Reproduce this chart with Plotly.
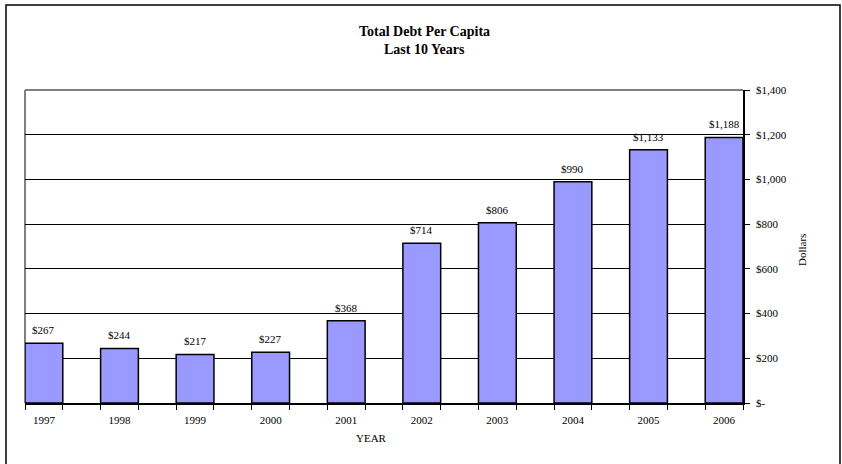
import plotly.graph_objects as go

years = ["1997", "1998", "1999", "2000", "2001", "2002", "2003", "2004", "2005", "2006"]
debt = [267, 244, 217, 227, 368, 714, 806, 990, 1133, 1188]
y_ticks = [0, 200, 400, 600, 800, 1000, 1200, 1400]
y_ticktext = ["$-", "$200", "$400", "$600", "$800", "$1,000", "$1,200", "$1,400"]

xpos = list(range(len(years)))
bar_w = 0.5
edges = []
for p in xpos:
    edges += [p - bar_w / 2, p + bar_w / 2]

FONT = "'Liberation Serif', 'Times New Roman', 'DejaVu Serif', serif"

fig = go.Figure()
fig.add_trace(go.Bar(
    x=xpos, y=debt, width=bar_w,
    marker=dict(color="#9999FF", line=dict(color="black", width=1.5)),
    hoverinfo="skip",
))

# data labels
for p, v in zip(xpos, debt):
    fig.add_annotation(x=p, y=v, text=f"${v:,}", showarrow=False,
                       xanchor="center", yanchor="bottom", yshift=5,
                       font=dict(family=FONT, size=11, color="black"))

L, R, T, B = 25, 743, 90, 403
W, H = R - L, B - T

def px_x(x):
    return (x - L) / W

def px_y(y):
    return (B - y) / H

def label(text, x, y, size, angle=0):
    fig.add_annotation(xref="paper", yref="paper", x=px_x(x), y=px_y(y),
                       xanchor="center", yanchor="middle",
                       text=text, showarrow=False, textangle=angle,
                       font=dict(family=FONT, size=size, color="black"))

label("<b>Total Debt Per Capita</b>", 424, 31, 14)
label("<b>Last 10 Years</b>", 424, 50, 14)
label("YEAR", 371, 438, 11)
label("Dollars", 802, 250, 11, angle=-90)

# plot area border (gray top and left)
fig.add_shape(type="line", xref="paper", yref="paper", x0=0, x1=1, y0=1, y1=1,
              line=dict(color="#808080", width=2), layer="above")
fig.add_shape(type="line", xref="paper", yref="paper", x0=0, x1=0, y0=0, y1=1,
              line=dict(color="#808080", width=2), layer="below")
# outer chart border
fig.add_shape(type="rect", xref="paper", yref="paper",
              x0=px_x(6), x1=px_x(840), y0=px_y(470), y1=px_y(5),
              line=dict(color="black", width=1.5), fillcolor="rgba(0,0,0,0)",
              layer="above")

fig.update_layout(
    width=842, height=464,
    margin=dict(l=L, r=842 - R, t=T, b=464 - B),
    paper_bgcolor="white", plot_bgcolor="white",
    showlegend=False,
    font=dict(family=FONT, size=11, color="black"),
    xaxis=dict(
        range=[-bar_w / 2, len(years) - 1 + bar_w / 2],
        tickvals=xpos, ticktext=years, ticks="",
        showgrid=False, zeroline=False,
        showline=True, linecolor="black", linewidth=1.5,
        ticklabelstandoff=6,
        minor=dict(tickvals=edges, ticks="outside", ticklen=5,
                   tickcolor="black", tickwidth=1, showgrid=False),
        tickfont=dict(family=FONT, size=11, color="black"),
    ),
    yaxis=dict(
        side="right", range=[0, 1400],
        tickvals=y_ticks, ticktext=y_ticktext,
        ticks="outside", ticklen=5, tickcolor="black",
        showgrid=True, gridcolor="black", gridwidth=1,
        zeroline=False,
        showline=True, linecolor="black", linewidth=1.5,
        ticklabelstandoff=4,
        tickfont=dict(family=FONT, size=11, color="black"),
    ),
)

fig.write_html("out.html", config={"displayModeBar": False},
               post_script="document.body.style.margin='0';")
